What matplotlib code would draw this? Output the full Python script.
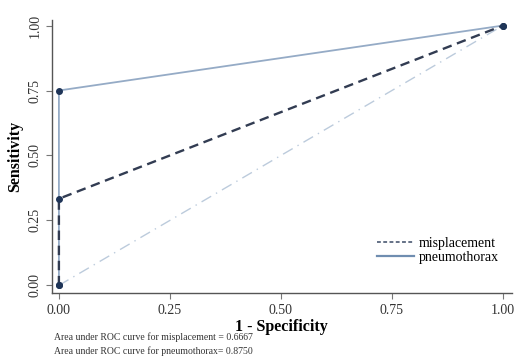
import matplotlib.pyplot as plt
from matplotlib.lines import Line2D

plt.rcParams['font.family'] = ['Liberation Serif', 'DejaVu Serif']

# ROC points (1 - specificity, sensitivity)
mis_fpr = [0.0, 0.0, 1.0]
mis_tpr = [0.0, 1 / 3, 1.0]
pnx_fpr = [0.0, 0.0, 1.0]
pnx_tpr = [0.0, 0.75, 1.0]
ref_line = [0.0, 1.0]
ticks = [0.0, 0.25, 0.5, 0.75, 1.0]
tick_labels = ["0.00", "0.25", "0.50", "0.75", "1.00"]
auc_mis = 0.6667
auc_pnx = 0.8750

fig = plt.figure(figsize=(5.18, 3.61), dpi=100)
ax = fig.add_axes([0.100, 0.188, 0.888, 0.757])

ax.plot(ref_line, ref_line, color="#bccbdc", lw=1.0, ls=(0, (8, 4, 1, 4)), zorder=1)
ax.plot(pnx_fpr, pnx_tpr, color="#95abc6", lw=1.3, zorder=2)
ax.plot(mis_fpr, mis_tpr, color="#323c52", lw=1.7, ls=(0, (4, 2.4)), zorder=3)
ax.plot(pnx_fpr, pnx_tpr, ls="none", marker="o", ms=4, color="#1f3558", zorder=4)
ax.plot(mis_fpr, mis_tpr, ls="none", marker="o", ms=4, color="#1f3558", zorder=4)

ax.set_xlim(-0.016, 1.02)
ax.set_ylim(-0.03, 1.022)
ax.set_xticks(ticks)
ax.set_xticklabels(tick_labels, fontsize=10)
ax.set_yticks(ticks)
ax.set_yticklabels(tick_labels, fontsize=10, rotation=90, va="center")
ax.set_xlabel("1 - Specificity", fontsize=11.5, fontweight="bold", labelpad=2)
ax.set_ylabel("Sensitivity", fontsize=11.5, fontweight="bold", labelpad=4)

for s in ["top", "right"]:
    ax.spines[s].set_visible(False)
for s in ["left", "bottom"]:
    ax.spines[s].set_color("#555555")
    ax.spines[s].set_linewidth(1.0)
ax.tick_params(color="#777777", length=4, width=0.8, labelcolor="#333333")

handles = [Line2D([], [], color="#3a4a66", lw=1.1, ls=(0, (2.5, 1.6))),
           Line2D([], [], color="#6f8db0", lw=1.6)]
ax.legend(handles, ["misplacement", "pneumothorax"], loc="lower right",
          bbox_to_anchor=(1.0, 0.06), frameon=False, fontsize=10,
          handlelength=2.6, handletextpad=0.4, labelspacing=0.1)

fig.text(0.104, 0.058, "Area under ROC curve for misplacement = %.4f" % auc_mis,
         fontsize=7, color="#333333")
fig.text(0.104, 0.020, "Area under ROC curve for pneumothorax= %.4f" % auc_pnx,
         fontsize=7, color="#333333")

fig.savefig("out.png", dpi=100)
